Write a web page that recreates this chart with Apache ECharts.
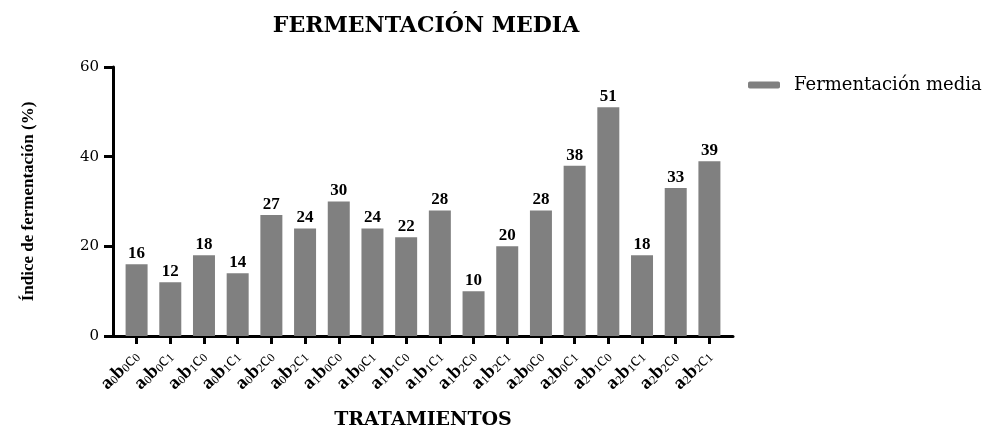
<!DOCTYPE html>
<html>
<head>
<meta charset="utf-8">
<script src="https://cdn.jsdelivr.net/npm/echarts@6/dist/echarts.min.js"></script>
<style>
html, body { margin: 0; padding: 0; background: #fff; }
#main { width: 997px; height: 429px; }
</style>
</head>
<body>
<div id="main"></div>
<script>
// tratamientos: [a, b, c] subíndices
var categories = [
    ['0','0','0'], ['0','0','1'], ['0','1','0'], ['0','1','1'], ['0','2','0'], ['0','2','1'],
    ['1','0','0'], ['1','0','1'], ['1','1','0'], ['1','1','1'], ['1','2','0'], ['1','2','1'],
    ['2','0','0'], ['2','0','1'], ['2','1','0'], ['2','1','1'], ['2','2','0'], ['2','2','1']
];
var fermentacion = [16, 12, 18, 14, 27, 24, 30, 24, 22, 28, 10, 20, 28, 38, 51, 18, 33, 39];
var yTicks = [0, 20, 40, 60];

var serif = '"Liberation Serif", "DejaVu Serif", serif';
var wide = '"DejaVu Serif", serif';

var chartDom = document.getElementById('main');
var myChart = echarts.init(chartDom);
var option;

var positions = categories.map(function (c, i) { return i; });
var barData = fermentacion.map(function (v, i) { return [i, v]; });

option = {
    animation: false,
    title: {
        text: 'FERMENTACIÓN MEDIA',
        left: 421,
        top: 10,
        textAlign: 'center',
        textStyle: { fontFamily: wide, fontWeight: 'bold', fontSize: 22, color: '#000' }
    },
    legend: {
        left: 743,
        top: 71,
        itemWidth: 32,
        itemHeight: 7,
        textStyle: { fontFamily: wide, fontSize: 18, color: '#000', padding: [0, 0, 0, 9] },
        data: ['Fermentación media']
    },
    grid: {
        left: 113,
        right: 264,
        top: 67,
        bottom: 93,
        outerBoundsMode: 'none'
    },
    xAxis: {
        type: 'value',
        min: -0.7,
        max: 17.7,
        name: 'TRATAMIENTOS',
        nameLocation: 'middle',
        nameGap: 75,
        nameMoveOverlap: false,
        nameTextStyle: { fontFamily: wide, fontWeight: 'bold', fontSize: 19, color: '#000' },
        splitLine: { show: false },
        axisLine: { show: true, lineStyle: { color: '#000', width: 3 } },
        axisTick: {
            show: true,
            customValues: positions,
            length: 8,
            lineStyle: { color: '#000', width: 3 }
        },
        axisLabel: {
            customValues: positions,
            rotate: 45,
            margin: 18,
            formatter: function (v) {
                var c = categories[Math.round(v)];
                if (!c) return '';
                return '{m|a}{s|' + c[0] + '}{m|b}{s|' + c[1] + '}{n|c}{s|' + c[2] + '}';
            },
            rich: {
                m: { fontFamily: serif, fontWeight: 'bold', fontSize: 19, color: '#000', lineHeight: 18 },
                n: { fontFamily: serif, fontSize: 19, color: '#000', lineHeight: 18 },
                s: { fontFamily: serif, fontSize: 12, color: '#000', verticalAlign: 'bottom', lineHeight: 18, padding: [7, 0, 0, 0] }
            }
        }
    },
    yAxis: {
        type: 'value',
        min: 0,
        max: 60,
        interval: 20,
        name: 'Índice de fermentación (%)',
        nameLocation: 'middle',
        nameGap: 76,
        nameTextStyle: { fontFamily: serif, fontWeight: 'bold', fontSize: 17, color: '#000' },
        splitLine: { show: false },
        axisLine: { show: true, onZero: false, lineStyle: { color: '#000', width: 3 } },
        axisTick: { show: true, length: 9, lineStyle: { color: '#000', width: 3 } },
        axisLabel: {
            fontFamily: wide,
            fontSize: 15,
            color: '#000',
            margin: 14,
            formatter: function (v) { return yTicks.indexOf(v) >= 0 ? String(v) : ''; }
        }
    },
    series: [
        {
            name: 'Fermentación media',
            type: 'bar',
            barWidth: 22,
            data: barData,
            itemStyle: { color: '#808080' },
            label: {
                show: true,
                position: 'top',
                distance: 2,
                fontFamily: serif,
                fontWeight: 'bold',
                fontSize: 17,
                color: '#000',
                formatter: function (p) { return p.value[1]; }
            }
        }
    ]
};

option && myChart.setOption(option);
</script>
</body>
</html>
